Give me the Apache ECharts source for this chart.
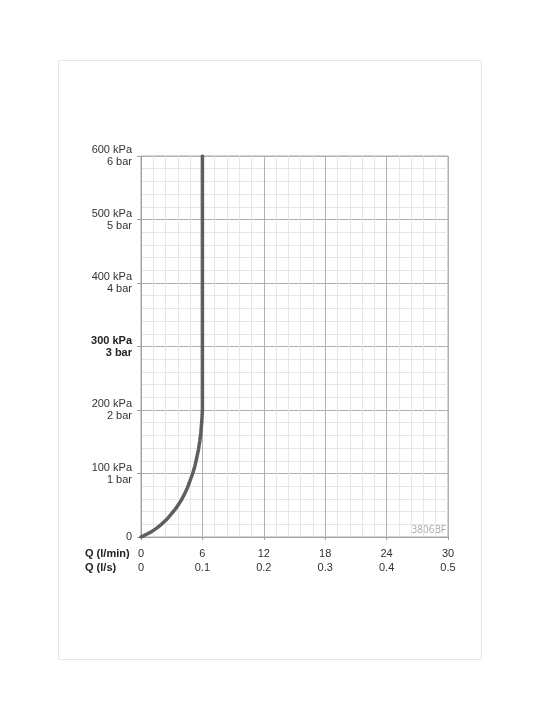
<!DOCTYPE html>
<html>
<head>
<meta charset="utf-8">
<script src="https://cdn.jsdelivr.net/npm/echarts@6/dist/echarts.min.js"></script>
<style>
  html, body { margin: 0; padding: 0; background: #fff; }
  #chart { width: 540px; height: 720px; }
</style>
</head>
<body>
<div id="chart"></div>
<script>
// flow (l/min) vs pressure (kPa)
const flowLmin = [0, 0.5, 1.0, 1.5, 2.0, 2.5, 2.95, 3.45, 3.9, 4.25, 4.55, 4.8, 5.05, 5.27, 5.45, 5.62, 5.75, 5.85, 5.92, 5.97, 6.0, 6.0];
const pressureKpa = [0, 4, 8, 13.5, 20, 27.5, 36, 46, 57, 67.5, 78, 89, 100, 112, 125, 138, 152, 165, 178, 190, 200, 600];

const boldTick = 300;
const code = '3806BF';

const chart = echarts.init(document.getElementById('chart'));

chart.setOption({
  animation: false,
  textStyle: { fontFamily: 'Liberation Sans, Arial, sans-serif' },
  grid: {
    left: 141, right: 92, top: 156, bottom: 183,
    show: true, borderColor: '#a8a8a8', borderWidth: 1
  },
  xAxis: {
    type: 'value',
    min: 0, max: 30, interval: 6,
    axisLine: { show: true, lineStyle: { color: '#a0a0a0' } },
    axisTick: { show: true, length: 3, lineStyle: { color: '#a0a0a0' } },
    splitLine: { show: true, lineStyle: { color: '#b0b0b0', width: 1 } },
    minorTick: { show: false, splitNumber: 5 },
    minorSplitLine: { show: true, lineStyle: { color: '#e6e6e6', width: 1 } },
    axisLabel: {
      color: '#333', fontSize: 11, lineHeight: 14, margin: 10,
      formatter: v => {
        const ls = v / 60;
        return v + '\n' + (v === 0 ? '0' : ls.toFixed(1));
      }
    }
  },
  yAxis: {
    type: 'value',
    min: 0, max: 600, interval: 100,
    axisLine: { show: true, lineStyle: { color: '#a0a0a0' } },
    axisTick: { show: true, length: 4, lineStyle: { color: '#a0a0a0' } },
    splitLine: { show: true, lineStyle: { color: '#b0b0b0', width: 1 } },
    minorTick: { show: false, splitNumber: 5 },
    minorSplitLine: { show: true, lineStyle: { color: '#e6e6e6', width: 1 } },
    axisLabel: {
      color: '#333', fontSize: 11, lineHeight: 12, margin: 9, align: 'right',
      formatter: v => {
        if (v === 0) return '0';
        if (v === boldTick) return '{b|' + v + ' kPa}\n{b|' + (v / 100) + ' bar}';
        return v + ' kPa\n' + (v / 100) + ' bar';
      },
      rich: {
        b: { fontWeight: 'bold', fontSize: 11, color: '#222', lineHeight: 12 }
      }
    }
  },
  graphic: [
    {
      type: 'rect', silent: true, z: -1,
      shape: { x: 58.5, y: 60.5, width: 423, height: 599 },
      style: { fill: 'none', stroke: '#e6e6e6', lineWidth: 1 }
    },
    {
      type: 'text', left: 85, top: 548,
      style: { text: 'Q (l/min)', font: 'bold 11px Liberation Sans, Arial, sans-serif', fill: '#222' }
    },
    {
      type: 'text', left: 85, top: 562,
      style: { text: 'Q (l/s)', font: 'bold 11px Liberation Sans, Arial, sans-serif', fill: '#222' }
    },
    {
      type: 'text', right: 94, top: 525,
      style: { text: code, font: '10px Open Sans, sans-serif', fill: '#a8a8a8' }
    }
  ],
  series: [{
    type: 'line',
    data: flowLmin.map((q, i) => [q, pressureKpa[i]]),
    showSymbol: false,
    smooth: false,
    lineStyle: { color: '#5e5e5e', width: 3.5, join: 'round', cap: 'round' },
    z: 5
  }]
});
</script>
</body>
</html>
